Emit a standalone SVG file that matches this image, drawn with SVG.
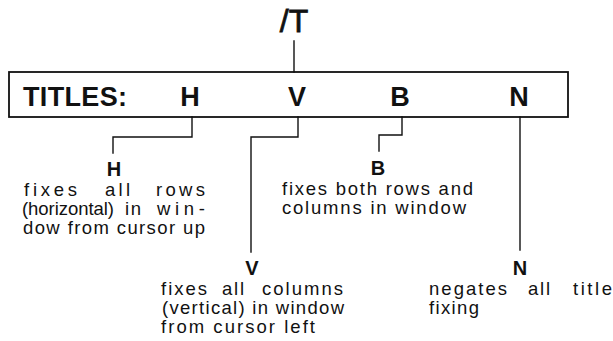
<svg xmlns="http://www.w3.org/2000/svg" width="613" height="341" viewBox="0 0 613 341">
<style>
.ln{stroke:#111;stroke-width:1.4;fill:none;stroke-linecap:square;stroke-linejoin:miter}
.box{fill:none;stroke:#111;stroke-width:1.8}
.big{font-family:"Liberation Sans",Arial,sans-serif;font-weight:bold;font-size:27px;fill:#111}
.cmd{font-family:"Liberation Sans",Arial,sans-serif;font-size:32px;fill:#111;stroke:#111;stroke-width:0.8;text-anchor:middle}
.lbl{font-family:"Liberation Sans",Arial,sans-serif;font-weight:bold;font-size:20px;fill:#111;text-anchor:middle}
.txt{font-family:"Liberation Sans",Arial,sans-serif;font-size:18.5px;fill:#111}
</style>
<rect width="613" height="341" fill="#fff"/>
<g id="command">
<text class="cmd" x="294" y="32">/T</text>
</g>
<g id="titles-box">
<rect class="box" x="9" y="72" width="559" height="45"/>
<text class="big" x="23" y="106" textLength="104">TITLES:</text>
<text class="big" x="190" y="106" text-anchor="middle">H</text>
<text class="big" x="297" y="106" text-anchor="middle">V</text>
<text class="big" x="400" y="106" text-anchor="middle">B</text>
<text class="big" x="519" y="106" text-anchor="middle">N</text>
</g>
<g id="connectors">
<path class="ln" d="M294 41V72"/>
<path class="ln" d="M192 117V137H113V153"/>
<path class="ln" d="M298 117V137H251V252"/>
<path class="ln" d="M402 117V135H379V151"/>
<path class="ln" d="M520 117V250"/>
</g>
<g id="node-h">
<text class="lbl" x="114" y="176">H</text>
<text class="txt" y="196"><tspan x="24" textLength="53">fixes</tspan><tspan x="105" textLength="25">all</tspan><tspan x="156" textLength="49">rows</tspan></text>
<text class="txt" y="215"><tspan x="22" textLength="92">(horizontal)</tspan><tspan x="125" textLength="16">in</tspan><tspan x="157" textLength="48">win-</tspan></text>
<text class="txt" x="23" y="234" textLength="182">dow from cursor up</text>
</g>
<g id="node-v">
<text class="lbl" x="252" y="275">V</text>
<text class="txt" y="295"><tspan x="161" textLength="46">fixes</tspan><tspan x="222" textLength="22">all</tspan><tspan x="262" textLength="81">columns</tspan></text>
<text class="txt" x="162" y="314" textLength="182">(vertical) in window</text>
<text class="txt" x="161" y="333" textLength="154">from cursor left</text>
</g>
<g id="node-b">
<text class="lbl" x="378" y="175">B</text>
<text class="txt" x="282" y="195" textLength="191">fixes both rows and</text>
<text class="txt" x="282" y="214" textLength="184">columns in window</text>
</g>
<g id="node-n">
<text class="lbl" x="520" y="275">N</text>
<text class="txt" y="295"><tspan x="429" textLength="78">negates</tspan><tspan x="528" textLength="22">all</tspan><tspan x="573" textLength="39">title</tspan></text>
<text class="txt" x="429" y="314" textLength="50">fixing</text>
</g>
</svg>
